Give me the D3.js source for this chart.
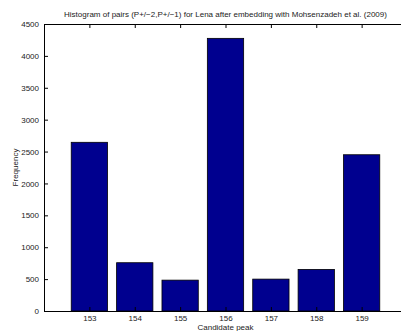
<!DOCTYPE html>
<html>
<head>
<meta charset="utf-8">
<script src="https://cdn.jsdelivr.net/npm/d3@7"></script>
<style>
  body { margin: 0; background: #fff; }
  svg { display: block; overflow: hidden; font-family: "Liberation Sans", Arial, sans-serif; }
</style>
</head>
<body>
<div id="chart"></div>
<script>
// histogram counts per candidate peak
const peaks = [153, 154, 155, 156, 157, 158, 159];
const counts = [2645, 757, 484, 4275, 500, 652, 2450];
const yTicks = [0, 500, 1000, 1500, 2000, 2500, 3000, 3500, 4000, 4500];

const width = 401, height = 331;
const margin = {top: 24, left: 44, right: -6, bottom: 20};
const plotW = width - margin.left - margin.right;
const plotH = height - margin.top - margin.bottom;

let svg = d3.select('#chart').append('svg')
  .attr('width', width)
  .attr('height', height);

let x = d3.scaleLinear().domain([152, 160]).range([0, plotW]);
let y = d3.scaleLinear().domain([0, 4500]).range([plotH, 0]);
let barW = x(152.8) - x(152);

let g = svg.append('g').attr('transform', `translate(${margin.left},${margin.top})`);

g.selectAll('rect.bar')
  .data(peaks)
  .join('rect')
  .attr('class', 'bar')
  .attr('x', (d) => x(d) - barW / 2)
  .attr('y', (d, i) => y(counts[i]))
  .attr('width', barW)
  .attr('height', (d, i) => y(0) - y(counts[i]))
  .attr('fill', '#00008f')
  .attr('stroke', '#000')
  .attr('stroke-width', 0.8);

// axes, MATLAB style: inward ticks, box on
let axBottom = g.append('g').attr('transform', `translate(0,${plotH})`)
  .call(d3.axisBottom(x).tickValues(peaks).tickSize(-4).tickPadding(4).tickFormat(d3.format('d')));
let axTop = g.append('g')
  .call(d3.axisTop(x).tickValues(peaks).tickSize(-4).tickFormat(''));
let axLeft = g.append('g')
  .call(d3.axisLeft(y).tickValues(yTicks).tickSize(-4).tickPadding(5).tickFormat(d3.format('d')));
let axRight = g.append('g').attr('transform', `translate(${plotW},0)`)
  .call(d3.axisRight(y).tickValues(yTicks).tickSize(-4).tickFormat(''));

[axBottom, axTop, axLeft, axRight].forEach((a) => {
  a.select('.domain').attr('stroke', '#000').attr('stroke-width', 1);
  a.selectAll('.tick line').attr('stroke', '#000');
  a.selectAll('text').attr('font-size', 8).attr('fill', '#222')
    .attr('font-family', '"Liberation Sans", Arial, sans-serif');
});

svg.append('text')
  .attr('x', margin.left + plotW / 2)
  .attr('y', 17)
  .attr('text-anchor', 'middle')
  .attr('font-size', 8)
  .attr('fill', '#222')
  .text('Histogram of pairs (P+/\u22122,P+/\u22121) for Lena after embedding with Mohsenzadeh et al. (2009)');

svg.append('text')
  .attr('x', margin.left + plotW / 2)
  .attr('y', 330)
  .attr('text-anchor', 'middle')
  .attr('font-size', 8)
  .attr('fill', '#222')
  .text('Candidate peak');

svg.append('text')
  .attr('transform', `translate(18,${margin.top + plotH / 2}) rotate(-90)`)
  .attr('text-anchor', 'middle')
  .attr('font-size', 8)
  .attr('fill', '#222')
  .text('Frequency');
</script>
</body>
</html>
